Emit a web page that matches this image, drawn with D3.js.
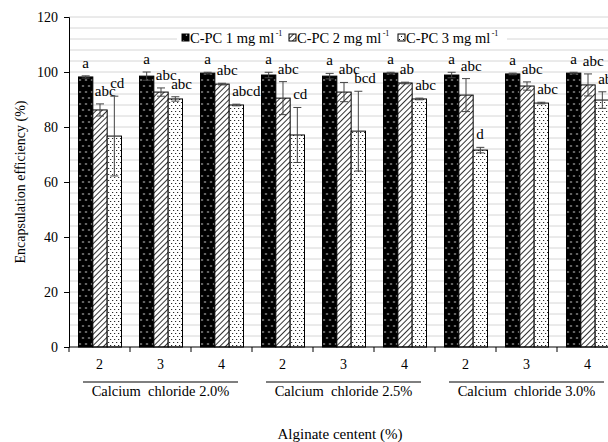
<!DOCTYPE html>
<html>
<head>
<meta charset="utf-8">
<script src="https://cdn.jsdelivr.net/npm/d3@7"></script>
<style>
  body { margin: 0; background: #fff; }
  text { font-family: "Liberation Serif", "Times New Roman", serif; fill: #000; }
</style>
</head>
<body>
<div id="content"></div>
<script>
// values
var groups = ["Calcium  chloride 2.0%", "Calcium  chloride 2.5%", "Calcium  chloride 3.0%"];
var alginate = ["2", "3", "4"];
var seriesNames = ["C-PC 1 mg ml", "C-PC 2 mg ml", "C-PC 3 mg ml"];

var pc1 = [98.2, 98.5, 99.6, 98.9, 98.5, 99.6, 98.9, 99.3, 99.6];
var pc2 = [86.2, 92.7, 95.6, 90.5, 92.7, 96.0, 91.6, 94.9, 95.3];
var pc3 = [76.7, 90.2, 88.0, 77.1, 78.5, 90.2, 71.6, 88.7, 89.8];

var err1 = [0.4, 1.5, 0.3, 1.0, 1.0, 0.3, 1.0, 0.3, 0.3];
var err2 = [2.2, 1.5, 0.3, 6.0, 3.5, 0.3, 6.0, 1.5, 4.0];
var err3 = [14.5, 0.8, 0.3, 10.0, 14.5, 0.3, 1.0, 0.3, 3.0];

var lab1 = ["a", "a", "a", "a", "a", "a", "a", "a", "a"];
var lab2 = ["abc", "abc", "abc", "abc", "abc", "ab", "abc", "abc", "abc"];
var lab3 = ["cd", "abc", "abcd", "cd", "bcd", "abc", "d", "abc", "abc"];

var yTicks = [0, 20, 40, 60, 80, 100, 120];

var margin = {top: 17, left: 69};
var width = 549;
var height = 330;

var svg = d3.select("#content").append("svg")
	.attr("width", 608).attr("height", 442);

var defs = svg.append("defs");

// black with white dots
var p1 = defs.append("pattern").attr("id", "pBlack")
	.attr("patternUnits", "userSpaceOnUse").attr("width", 6).attr("height", 12);
p1.append("rect").attr("width", 6).attr("height", 12).attr("fill", "#000");
p1.append("circle").attr("cx", 1.5).attr("cy", 3).attr("r", 0.8).attr("fill", "#fff");
p1.append("circle").attr("cx", 4.5).attr("cy", 9).attr("r", 0.8).attr("fill", "#fff");

// diagonal hatch
var p2 = defs.append("pattern").attr("id", "pHatch")
	.attr("patternUnits", "userSpaceOnUse").attr("width", 4).attr("height", 4)
	.attr("patternTransform", "rotate(45)");
p2.append("rect").attr("width", 4).attr("height", 4).attr("fill", "#fff");
p2.append("line").attr("x1", 0).attr("y1", 0).attr("x2", 0).attr("y2", 4)
	.attr("stroke", "#000").attr("stroke-width", 1.6);

// white with small dots
var p3 = defs.append("pattern").attr("id", "pDot")
	.attr("patternUnits", "userSpaceOnUse").attr("width", 4).attr("height", 6);
p3.append("rect").attr("width", 4).attr("height", 6).attr("fill", "#fff");
p3.append("rect").attr("x", 1).attr("y", 1).attr("width", 1).attr("height", 1).attr("fill", "#000");
p3.append("rect").attr("x", 3).attr("y", 4).attr("width", 1).attr("height", 1).attr("fill", "#000");

var fills = ["url(#pBlack)", "url(#pHatch)", "url(#pDot)"];

var cats = d3.range(9);
var x0 = d3.scaleBand().domain(cats).range([0, width]);
var x1 = d3.scaleBand().domain([0, 1, 2]).range([9.5, 52.5]);
var y = d3.scaleLinear().domain([0, 120]).range([height, 0]);

var g = svg.append("g").attr("transform", "translate(" + margin.left + "," + margin.top + ")");

// light grid every 4 units
g.append("g").selectAll("line")
	.data(d3.range(4, 121, 4))
	.enter().append("line")
	.attr("x1", 0).attr("x2", width)
	.attr("y1", function (d) { return y(d); })
	.attr("y2", function (d) { return y(d); })
	.attr("stroke", "#d6d6d6").attr("stroke-width", 1);

var data = [];
cats.forEach(function (c) {
	[[pc1, err1, lab1], [pc2, err2, lab2], [pc3, err3, lab3]].forEach(function (s, k) {
		data.push({c: c, k: k, v: s[0][c], e: s[1][c], l: s[2][c]});
	});
});

var bars = g.selectAll("g.bar").data(data).enter().append("g").attr("class", "bar")
	.attr("transform", function (d) { return "translate(" + (x0(d.c) + x1(d.k)) + ",0)"; });

bars.append("rect")
	.attr("y", function (d) { return y(d.v); })
	.attr("width", x1.bandwidth())
	.attr("height", function (d) { return height - y(d.v); })
	.attr("fill", function (d) { return fills[d.k]; })
	.attr("stroke", "#000").attr("stroke-width", 1);

var bw = x1.bandwidth();
bars.append("line")
	.attr("x1", bw / 2).attr("x2", bw / 2)
	.attr("y1", function (d) { return y(d.v - d.e); })
	.attr("y2", function (d) { return y(d.v + d.e); })
	.attr("stroke", "#444").attr("stroke-width", 1);
bars.append("line")
	.attr("x1", bw / 2 - 4).attr("x2", bw / 2 + 4)
	.attr("y1", function (d) { return y(d.v + d.e); })
	.attr("y2", function (d) { return y(d.v + d.e); })
	.attr("stroke", "#444").attr("stroke-width", 1);
bars.append("line")
	.attr("x1", bw / 2 - 4).attr("x2", bw / 2 + 4)
	.attr("y1", function (d) { return y(d.v - d.e); })
	.attr("y2", function (d) { return y(d.v - d.e); })
	.attr("stroke", "#444").attr("stroke-width", 1);

bars.append("text")
	.attr("x", function (d) { return d.k == 0 ? bw / 2 : 1 + d.k; })
	.attr("y", function (d) { return y(d.v + d.e) - 8; })
	.attr("text-anchor", function (d) { return d.k == 0 ? "middle" : "start"; })
	.style("font-size", "15px")
	.text(function (d) { return d.l; });

// y axis
var yAxis = d3.axisLeft(y).tickValues(yTicks).tickSize(5).tickPadding(6);
var ya = g.append("g").call(yAxis);
ya.select(".domain").attr("stroke", "#000");
ya.selectAll("text").style("font-size", "14px").style("font-family", "Liberation Serif");

// x axis: ticks at category boundaries
g.append("line").attr("x1", 0).attr("x2", width).attr("y1", height).attr("y2", height)
	.attr("stroke", "#000").attr("stroke-width", 1.2);
g.append("g").selectAll("line").data(d3.range(10)).enter().append("line")
	.attr("x1", function (d) { return d * x0.bandwidth(); })
	.attr("x2", function (d) { return d * x0.bandwidth(); })
	.attr("y1", height).attr("y2", height + 5)
	.attr("stroke", "#000");

g.append("g").selectAll("text").data(cats).enter().append("text")
	.attr("x", function (d) { return x0(d) + x0.bandwidth() / 2; })
	.attr("y", height + 22)
	.attr("text-anchor", "middle")
	.style("font-size", "14px")
	.text(function (d) { return alginate[d % 3]; });

// group lines and names
var gw = x0.bandwidth() * 3;
var grp = g.append("g").selectAll("g").data(groups).enter().append("g")
	.attr("transform", function (d, i) { return "translate(" + (i * gw) + ",0)"; });
grp.append("line").attr("x1", 14).attr("x2", gw - 14)
	.attr("y1", height + 35).attr("y2", height + 35)
	.attr("stroke", "#000").attr("stroke-width", 1.2);
grp.append("text").attr("x", gw / 2).attr("y", height + 49)
	.attr("text-anchor", "middle").style("font-size", "14.5px")
	.attr("xml:space", "preserve")
	.text(function (d) { return d; });

// axis titles
svg.append("text").attr("x", 340).attr("y", 439)
	.attr("text-anchor", "middle").style("font-size", "15px")
	.text("Alginate centent (%)");
svg.append("text")
	.attr("transform", "translate(25," + (margin.top + 165) + ") rotate(-90)")
	.attr("text-anchor", "middle").style("font-size", "14px")
	.text("Encapsulation efficiency (%)");

// legend
var legX = [182, 289, 398];
svg.append("rect").attr("x", 177).attr("y", 30).attr("width", 330).attr("height", 17).attr("fill", "#fff");
var leg = svg.append("g").selectAll("g").data(seriesNames).enter().append("g")
	.attr("transform", function (d, i) { return "translate(" + legX[i] + ",38)"; });
leg.append("rect").attr("x", 0).attr("y", -4).attr("width", 7).attr("height", 7)
	.attr("fill", function (d, i) { return fills[i]; })
	.attr("stroke", "#000").attr("stroke-width", 1);
var lt = leg.append("text").attr("x", 8).attr("y", 5).style("font-size", "14.5px");
lt.append("tspan").text(function (d) { return d; });
lt.append("tspan").attr("dx", 1.5).attr("dy", -7).style("font-size", "8px").text("-1");
</script>
</body>
</html>
